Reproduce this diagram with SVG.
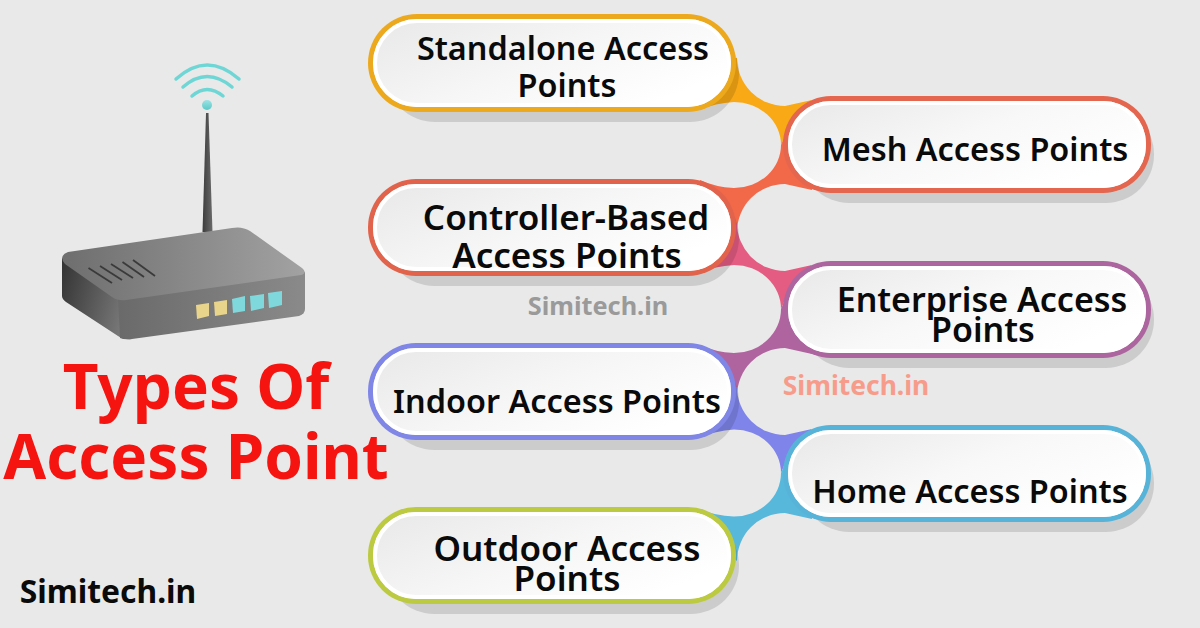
<svg xmlns="http://www.w3.org/2000/svg" width="1200" height="628" viewBox="0 0 1200 628">
<style>
.lb{font-family:"Noto Sans","Open Sans",sans-serif;font-weight:600;font-size:32.400px;fill:#0a0a0a;text-anchor:middle}
.lg{font-size:35px}
.md{font-size:34px}
.wm{font-family:"Noto Sans","Open Sans",sans-serif;font-weight:700;text-anchor:middle}
.tt{font-family:"Noto Sans","Open Sans",sans-serif;font-weight:700;font-size:62px;fill:#f5140f;text-anchor:middle}
.sh{fill:#000;fill-opacity:.12}
.ring{fill:none;stroke:#fff;stroke-width:4}
.wf{fill:none;stroke:#6fd6d6;stroke-width:3.500;stroke-linecap:round}
.vent{stroke:#3a3a3a;stroke-width:1.800}
</style>
<defs>
<linearGradient id="inner" x1="0" y1="0" x2="1" y2="0.6"><stop offset="0" stop-color="#e8e8e8"/><stop offset=".55" stop-color="#f6f6f6"/><stop offset="1" stop-color="#fff"/></linearGradient>
<linearGradient id="innerR" x1="0" y1="0" x2="1" y2="0.6"><stop offset="0" stop-color="#e8e8e8"/><stop offset=".55" stop-color="#f8f8f8"/><stop offset="1" stop-color="#fff"/></linearGradient>
<linearGradient id="top" x1="0" y1="0" x2="1" y2="0"><stop offset="0" stop-color="#6e6e6e"/><stop offset="1" stop-color="#a2a2a2"/></linearGradient>
<linearGradient id="sideL" x1="0" y1="0" x2="1" y2="0.3"><stop offset="0" stop-color="#333"/><stop offset="1" stop-color="#777"/></linearGradient>
<linearGradient id="sideR" x1="0" y1="0" x2="1" y2="0"><stop offset="0" stop-color="#6a6a6a"/><stop offset="1" stop-color="#8a8a8a"/></linearGradient>
<linearGradient id="ant" x1="0" y1="0" x2="1" y2="0"><stop offset="0" stop-color="#3c3c3c"/><stop offset="1" stop-color="#6a6a6a"/></linearGradient>
<linearGradient id="dotg" x1="0" y1="0" x2="0" y2="1"><stop offset="0" stop-color="#9be3e3"/><stop offset="1" stop-color="#5cc8c8"/></linearGradient>
</defs>
<rect width="1200" height="628" fill="#e9e9e9"/>

<g id="connectors">
<path fill="#f9a915" d="M737 58A48 48 0 0 0 785 106L812 100L792 118L781 145A47 43 0 0 0 734 102Q715 103 700 110L700 58Z"/>
<path fill="#f2694a" d="M781 145A47 43 0 0 1 734 188Q715 187 700 180L700 200L737 232A48 48 0 0 1 785 184L812 190L810 150L792 118Z"/>
<path fill="#e45c82" d="M737 223A48 48 0 0 0 785 271L812 265L792 283L781 309A47 44 0 0 0 734 265Q715 266 700 273L700 223Z"/>
<path fill="#b0649f" d="M781 309A47 44 0 0 1 734 353Q715 352 700 345L700 365L737 396A48 48 0 0 1 785 348L812 354L810 310L792 283Z"/>
<path fill="#7f84ea" d="M737 387A48 48 0 0 0 785 435L812 429L792 447L781 473A47 43.500 0 0 0 734 429.500Q715 431 700 437L700 387Z"/>
<path fill="#58b8dc" d="M781 473A47 43.500 0 0 1 734 516.500Q715 516 700 509L700 530L737 561A48 48 0 0 1 785 513L812 519L810 475L792 447Z"/>
</g>

<g id="node-standalone">
<rect class="sh" x="386" y="24" width="353" height="98" rx="49"/>
<rect x="368" y="14" width="368" height="98" rx="49" fill="#eca91d"/>
<rect x="373" y="19" width="358" height="88" rx="44" fill="url(#inner)"/>
<rect class="ring" x="375" y="21" width="354" height="84" rx="42"/>
<text class="lb" x="563" y="60">Standalone Access</text><text class="lb" x="567" y="97">Points</text>
</g>
<g id="node-mesh">
<rect class="sh" x="801" y="106" width="353" height="97" rx="48"/>
<rect x="783" y="96" width="368" height="97" rx="48" fill="#e4664f"/>
<rect x="788" y="101" width="358" height="87" rx="43" fill="url(#innerR)"/>
<rect class="ring" x="790" y="103" width="354" height="83" rx="41"/>
<text class="lb" x="975" y="161">Mesh Access Points</text>
</g>
<g id="node-controller">
<rect class="sh" x="386" y="189" width="353" height="97" rx="48"/>
<rect x="368" y="179" width="368" height="97" rx="48" fill="#e2634b"/>
<rect x="373" y="184" width="358" height="87" rx="43" fill="url(#inner)"/>
<rect class="ring" x="375" y="186" width="354" height="83" rx="41"/>
<text class="lb lg" x="566" y="230">Controller-Based</text><text class="lb lg" x="567" y="268">Access Points</text>
</g>
<g id="node-enterprise">
<rect class="sh" x="801" y="271" width="353" height="97" rx="48"/>
<rect x="783" y="261" width="368" height="97" rx="48" fill="#ad659f"/>
<rect x="788" y="266" width="358" height="87" rx="43" fill="url(#innerR)"/>
<rect class="ring" x="790" y="268" width="354" height="83" rx="41"/>
<text class="lb md" x="982" y="312">Enterprise Access</text><text class="lb md" x="983" y="342">Points</text>
</g>
<g id="node-indoor">
<rect class="sh" x="386" y="353" width="353" height="97" rx="48"/>
<rect x="368" y="343" width="368" height="97" rx="48" fill="#7f86e6"/>
<rect x="373" y="348" width="358" height="87" rx="43" fill="url(#inner)"/>
<rect class="ring" x="375" y="350" width="354" height="83" rx="41"/>
<text class="lb" x="557" y="413">Indoor Access Points</text>
</g>
<g id="node-home">
<rect class="sh" x="801" y="435" width="353" height="97" rx="48"/>
<rect x="783" y="425" width="368" height="97" rx="48" fill="#57b4d8"/>
<rect x="788" y="430" width="358" height="87" rx="43" fill="url(#innerR)"/>
<rect class="ring" x="790" y="432" width="354" height="83" rx="41"/>
<text class="lb" x="970" y="503">Home Access Points</text>
</g>
<g id="node-outdoor">
<rect class="sh" x="386" y="517" width="353" height="97" rx="48"/>
<rect x="368" y="507" width="368" height="97" rx="48" fill="#bcca42"/>
<rect x="373" y="512" width="358" height="87" rx="43" fill="url(#inner)"/>
<rect class="ring" x="375" y="514" width="354" height="83" rx="41"/>
<text class="lb lg" x="567" y="561">Outdoor Access</text><text class="lb lg" x="567" y="591">Points</text>
</g>

<g id="router">
<path d="M206 113H208.500L212.500 232H202.500Z" fill="url(#ant)"/>
<circle cx="207" cy="105" r="5" fill="url(#dotg)"/>
<path class="wf" d="M192 96Q207 83 223 96"/>
<path class="wf" d="M183 87Q207 66 232 87"/>
<path class="wf" d="M176 79Q207 51 239 79"/>
<path fill="url(#sideL)" d="M62 258V296Q62 299 66 302L118 336Q124 340 132 339L128 300Z"/>
<path fill="url(#sideR)" d="M118 298L305 272V309Q305 314 299 316L132 339Q124 340 120 338Z"/>
<path fill="url(#top)" d="M68 252L232 228Q242 226 250 231L302 268Q308 273 301 275L126 300Q118 301 112 297L65 264Q58 256 68 252Z"/>
<g class="vent"><line x1="88.500" y1="268" x2="112" y2="283"/><line x1="100" y1="266" x2="122" y2="280"/><line x1="111" y1="264" x2="133" y2="278"/><line x1="122.500" y1="262" x2="144" y2="277"/><line x1="133" y1="260" x2="155" y2="276"/></g>
<path fill="#e9d48c" d="M196 305L209 303V316L197 319Z"/>
<path fill="#e9d48c" d="M214 302L227 300V314L215 316Z"/>
<path fill="#7fd9dc" d="M232 299L245 296V311L233 313Z"/>
<path fill="#7fd9dc" d="M250 296L264 294V308L251 311Z"/>
<path fill="#7fd9dc" d="M268 293L282 291V305L269 308Z"/>
</g>

<text class="tt" x="196" y="409">Types Of</text>
<text class="tt" x="196" y="479">Access Point</text>
<text class="wm" x="598" y="315" font-size="25.300" fill="#9a9a9a">Simitech.in</text>
<text class="wm" x="856" y="395" font-size="26.400" fill="#f79c8b">Simitech.in</text>
<text class="wm" x="108" y="603" font-size="31.800" fill="#0a0a0a">Simitech.in</text>
</svg>
